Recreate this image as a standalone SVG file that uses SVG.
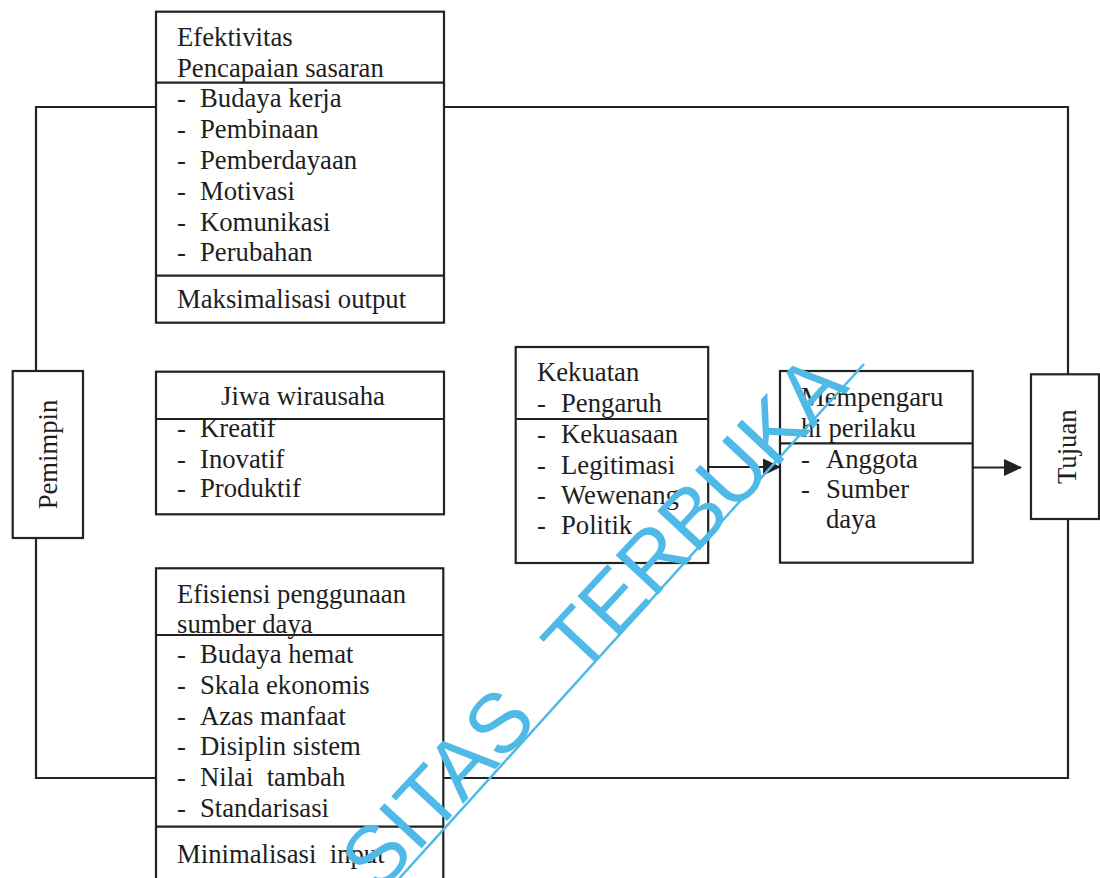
<svg xmlns="http://www.w3.org/2000/svg" width="1100" height="878" viewBox="0 0 1100 878">
<style>
  .box { fill: #ffffff; stroke: #222222; stroke-width: 2.2; }
  .div { stroke: #222222; stroke-width: 2.2; }
  .t { font-family: "Liberation Serif", "Times New Roman", serif; font-size: 26.7px; fill: #1e1e1e; }
  .c { text-anchor: middle; }
  .wire { fill: none; stroke: #222222; stroke-width: 2.2; }
  .wm { font-family: "Liberation Sans", Arial, sans-serif; font-size: 84px; fill: #4fb9e8; }
</style>
<defs>
  <marker id="arrow" markerWidth="18" markerHeight="18" refX="17" refY="9" orient="auto" markerUnits="userSpaceOnUse">
    <path d="M0,0.5 L18,9 L0,17.5 z" fill="#222222"/>
  </marker>
</defs>
<rect width="1100" height="878" fill="#ffffff"/>

<g id="connectors">
  <path class="wire" d="M156,107 H36 V371"/>
  <path class="wire" d="M36,538 V778 H156"/>
  <path class="wire" d="M444,107 H1068 V374"/>
  <path class="wire" d="M1068,519 V778 H444"/>
  <line class="wire" x1="709" y1="467" x2="780" y2="467" marker-end="url(#arrow)"/>
  <line class="wire" x1="973" y1="467.5" x2="1021" y2="467.5" marker-end="url(#arrow)"/>
</g>

<g id="efektivitas">
  <rect class="box" x="156" y="11.7" width="288" height="311"/>
  <line class="div" x1="156" y1="82.7" x2="444" y2="82.7"/>
  <line class="div" x1="156" y1="275.7" x2="444" y2="275.7"/>
  <text class="t" x="177" y="45.7">Efektivitas</text>
  <text class="t" x="177" y="76.7">Pencapaian sasaran</text>
  <text class="t" x="177" y="107.3">-</text><text class="t" x="200" y="107.3">Budaya kerja</text>
  <text class="t" x="177" y="138.3">-</text><text class="t" x="200" y="138.3">Pembinaan</text>
  <text class="t" x="177" y="169">-</text><text class="t" x="200" y="169">Pemberdayaan</text>
  <text class="t" x="177" y="200">-</text><text class="t" x="200" y="200">Motivasi</text>
  <text class="t" x="177" y="230.7">-</text><text class="t" x="200" y="230.7">Komunikasi</text>
  <text class="t" x="177" y="261">-</text><text class="t" x="200" y="261">Perubahan</text>
  <text class="t" x="177" y="308.3">Maksimalisasi output</text>
</g>

<g id="pemimpin">
  <rect class="box" x="12.7" y="371" width="70.3" height="167"/>
  <text class="t c" transform="translate(57,454.5) rotate(-90)">Pemimpin</text>
</g>

<g id="jiwa-wirausaha">
  <rect class="box" x="156" y="371.7" width="288" height="142.6"/>
  <line class="div" x1="156" y1="419" x2="444" y2="419"/>
  <text class="t c" x="303" y="405">Jiwa wirausaha</text>
  <text class="t" x="177" y="437">-</text><text class="t" x="200" y="437">Kreatif</text>
  <text class="t" x="177" y="467.7">-</text><text class="t" x="200" y="467.7">Inovatif</text>
  <text class="t" x="177" y="496.7">-</text><text class="t" x="200" y="496.7">Produktif</text>
</g>

<g id="efisiensi">
  <rect class="box" x="156" y="568.3" width="287.3" height="330"/>
  <line class="div" x1="156" y1="635" x2="443.3" y2="635"/>
  <line class="div" x1="156" y1="826.7" x2="443.3" y2="826.7"/>
  <text class="t" x="177" y="603.3">Efisiensi penggunaan</text>
  <text class="t" x="177" y="632.7">sumber daya</text>
  <text class="t" x="177" y="663.3">-</text><text class="t" x="200" y="663.3">Budaya hemat</text>
  <text class="t" x="177" y="694">-</text><text class="t" x="200" y="694">Skala ekonomis</text>
  <text class="t" x="177" y="724.7">-</text><text class="t" x="200" y="724.7">Azas manfaat</text>
  <text class="t" x="177" y="755.3">-</text><text class="t" x="200" y="755.3">Disiplin sistem</text>
  <text class="t" x="177" y="786">-</text><text class="t" x="200" y="786" xml:space="preserve">Nilai  tambah</text>
  <text class="t" x="177" y="816.7">-</text><text class="t" x="200" y="816.7">Standarisasi</text>
  <text class="t" x="177" y="863.3" xml:space="preserve">Minimalisasi  input</text>
</g>

<g id="kekuatan">
  <rect class="box" x="515.7" y="347" width="192.5" height="216"/>
  <line class="div" x1="515.7" y1="419" x2="708.2" y2="419"/>
  <text class="t" x="537" y="381">Kekuatan</text>
  <text class="t" x="537" y="412">-</text><text class="t" x="561" y="412">Pengaruh</text>
  <text class="t" x="537" y="443">-</text><text class="t" x="561" y="443">Kekuasaan</text>
  <text class="t" x="537" y="473.8">-</text><text class="t" x="561" y="473.8">Legitimasi</text>
  <text class="t" x="537" y="504">-</text><text class="t" x="561" y="504">Wewenang</text>
  <text class="t" x="537" y="533.8">-</text><text class="t" x="561" y="533.8">Politik</text>
</g>

<g id="mempengaruhi">
  <rect class="box" x="780" y="371" width="192.7" height="191.7"/>
  <line class="div" x1="780" y1="443.3" x2="972.7" y2="443.3"/>
  <text class="t" x="801" y="405.7">Mempengaru</text>
  <text class="t" x="801" y="436.7">hi perilaku</text>
  <text class="t" x="801" y="467.7">-</text><text class="t" x="826" y="467.7">Anggota</text>
  <text class="t" x="801" y="498.3">-</text><text class="t" x="826" y="498.3">Sumber</text>
  <text class="t" x="826" y="528.3">daya</text>
</g>

<g id="tujuan">
  <rect class="box" x="1031" y="374.3" width="68" height="144.7"/>
  <text class="t c" transform="translate(1076,446.7) rotate(-90)">Tujuan</text>
</g>

<g id="watermark">
  <text class="wm" transform="translate(378,895) rotate(-47)" word-spacing="38">SITAS TERBUKA</text>
  <line x1="378" y1="902" x2="864" y2="364" stroke="#4fb9e8" stroke-width="2.5"/>
</g>
</svg>
